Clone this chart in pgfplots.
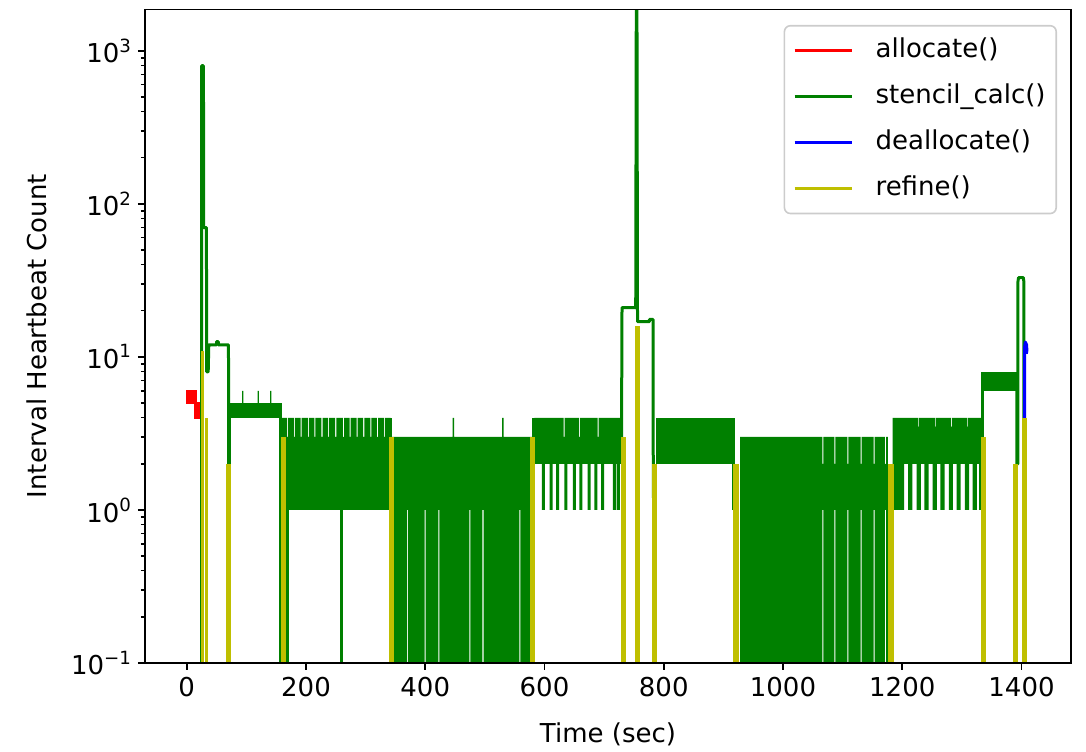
\documentclass[border=0pt]{standalone}
\usepackage{fontspec}
\setmainfont{DejaVu Sans}
\usepackage{pgfplots}
\pgfplotsset{compat=1.18}
\definecolor{mred}{rgb}{1,0,0}
\definecolor{mgreen}{rgb}{0,0.5,0}
\definecolor{mblue}{rgb}{0,0,1}
\definecolor{myellow}{rgb}{0.75,0.75,0}
\definecolor{legframe}{rgb}{0.8,0.8,0.8}
\newcommand{\fs}{\fontsize{13}{15.6}\selectfont}
\newcommand{\tensup}[1]{10\raisebox{0.42em}{\fontsize{9.1}{10}\selectfont #1}}
\begin{document}
\begin{tikzpicture}
\useasboundingbox (-72.5pt,-44pt) rectangle (470.5pt,331.5pt);
\begin{axis}[
  at={(0pt,0pt)}, anchor=south west,
  scale only axis, width=463pt, height=326.85pt,
  xmin=-70, xmax=1483, ymode=log, ymin=0.1, ymax=1870,
  enlargelimits=false, axis on top,
  unbounded coords=jump,
  axis line style={black, line width=0.8pt},
  tick align=outside, tick pos=left,
  major tick length=3.5pt, minor tick length=2pt,
  every tick/.style={black, line width=0.8pt},
  minor tick style={black, line width=0.6pt},
  xtick={0,200,400,600,800,1000,1200,1400},
  ytick={0.1,1,10,100,1000},
  yticklabels={\tensup{−1},\tensup{0},\tensup{1},\tensup{2},\tensup{3}},
  minor ytick={0.2,0.3,0.4,0.5,0.6,0.7,0.8,0.9,2,3,4,5,6,7,8,9,20,30,40,50,60,70,80,90,200,300,400,500,600,700,800,900},
  /pgf/number format/assume math mode=true,
  /pgf/number format/1000 sep={},
  every tick label/.append style={font=\fs},
  xlabel={Time (sec)}, ylabel={Interval Heartbeat Count},
  xlabel style={at={(axis description cs:0.5,-0.1086)}, anchor=center, font=\fs},
  ylabel style={at={(axis description cs:-0.1172,0.5)}, anchor=center, font=\fs},
  legend cell align=left,
  legend image code/.code={\draw[#1] (0pt,0pt) -- (28.8pt,0pt);},
  legend style={at={(1,1)}, anchor=north east, xshift=-7pt, yshift=-7.8pt,
    draw=legframe, line width=0.8pt, rounded corners=3pt, fill=white,
    font=\fs, inner xsep=4.3pt, inner ysep=5.2pt, row sep=8.5pt, column sep=10pt,
    nodes={inner sep=1pt, text height=9.5pt, text depth=3pt}},
]
\addlegendimage{mred, line width=1.5pt}
\addlegendentry{allocate()}
\addlegendimage{mgreen, line width=1.5pt}
\addlegendentry{stencil\_calc()}
\addlegendimage{mblue, line width=1.5pt}
\addlegendentry{deallocate()}
\addlegendimage{myellow, line width=1.5pt}
\addlegendentry{refine()}

% allocate()
\addplot[forget plot, fill=mred, draw=mred, line width=1pt] coordinates {
(0,5)(0,6)(15,6)(15,5)(24,5)(24,4)(14,4)(14,5)} -- cycle;

% stencil_calc(): dense oscillation bands
\addplot[forget plot, fill=mgreen, draw=none] coordinates {
(71,4)(71,5)(93,5)(93,6)(95,6)(95,5)(119,5)(119,6)(121,6)(121,5)(140,5)(140,6)(142,6)(142,5)(158,5)(158,4)} -- cycle;
\addplot[forget plot, fill=mgreen, draw=none] coordinates {
(160,1)(160,4)(168,4)(168,3)(169.8,3)(169.8,4)(180,4)(180,3)(181.8,3)(181.8,4)(191,4)(191,3)(192.8,3)(192.8,4)
(203,4)(203,3)(204.8,3)(204.8,4)(214,4)(214,3)(215.8,3)(215.8,4)(226,4)(226,3)(227.8,3)(227.8,4)
(237,4)(237,3)(238.8,3)(238.8,4)(249,4)(249,3)(250.8,3)(250.8,4)(262,4)(262,3)(263.8,3)(263.8,4)
(273,4)(273,3)(274.8,3)(274.8,4)(285,4)(285,3)(286.8,3)(286.8,4)(296,4)(296,3)(297.8,3)(297.8,4)
(308,4)(308,3)(309.8,3)(309.8,4)(319,4)(319,3)(320.8,3)(320.8,4)(331,4)(331,3)(332.8,3)(332.8,4)(342,4)(342,1)} -- cycle;
\addplot[forget plot, fill=mgreen, draw=none] coordinates {
(344,0.01)(344,3)(446,3)(446,4)(448.5,4)(448.5,3)(529,3)(529,4)(531.5,4)(531.5,3)(581,3)(581,0.01)
(559.6,0.01)(559.6,1)(557.8,1)(557.8,0.01)(497.8,0.01)(497.8,1)(496,1)(496,0.01)
(475.8,0.01)(475.8,1)(474,1)(474,0.01)(423.8,0.01)(423.8,1)(422,1)(422,0.01)
(400.8,0.01)(400.8,1)(399,1)(399,0.01)(370.8,0.01)(370.8,1)(369,1)(369,0.01)} -- cycle;
\addplot[forget plot, fill=mgreen, draw=none] coordinates {
(583,2)(583,4)(632,4)(632,3)(633.8,3)(633.8,4)(658,4)(658,3)(659.8,3)(659.8,4)(689,4)(689,3)(690.8,3)(690.8,4)(729,4)(729,2)
(726.5,2)(726.5,1)(721,1)(721,2)(719.5,2)(719.5,1)(714.5,1)(714.5,2)(700,2)(700,1)(695,1)(695,2)
(688.7,2)(688.7,1)(683.7,1)(683.7,2)(677.5,2)(677.5,1)(672.5,1)(672.5,2)(663.5,2)(663.5,1)(658.5,1)(658.5,2)
(652.5,2)(652.5,1)(647.5,1)(647.5,2)(638.5,2)(638.5,1)(633.5,1)(633.5,2)(624.5,2)(624.5,1)(619.5,1)(619.5,2)
(613.5,2)(613.5,1)(608.5,1)(608.5,2)(600.5,2)(600.5,1)(595.5,1)(595.5,2)} -- cycle;
\addplot[forget plot, fill=mgreen, draw=none] coordinates {
(787,2)(787,4)(917,4)(917,2)} -- cycle;
\addplot[forget plot, fill=mgreen, draw=none] coordinates {
(928,0.01)(928,3)(1066,3)(1066,2)(1067.8,2)(1067.8,3)(1086,3)(1086,2)(1087.8,2)(1087.8,3)
(1108,3)(1108,2)(1109.8,2)(1109.8,3)(1130,3)(1130,2)(1131.8,2)(1131.8,3)(1152,3)(1152,2)(1153.8,2)(1153.8,3)
(1171,3)(1171,2)(1172.8,2)(1172.8,3)(1176,3)(1176,0.01)
(1172.8,0.01)(1172.8,1)(1171,1)(1171,0.01)(1153.8,0.01)(1153.8,1)(1152,1)(1152,0.01)
(1131.8,0.01)(1131.8,1)(1130,1)(1130,0.01)(1109.8,0.01)(1109.8,1)(1108,1)(1108,0.01)
(1087.8,0.01)(1087.8,1)(1086,1)(1086,0.01)(1067.8,0.01)(1067.8,1)(1066,1)(1066,0.01)} -- cycle;
\addplot[forget plot, fill=mgreen, draw=none] coordinates {
(1184,2)(1184,4)(1226,4)(1226,3.5)(1227.5,3.5)(1227.5,4)(1255,4)(1255,3.5)(1256.5,3.5)(1256.5,4)
(1282,4)(1282,3.5)(1283.5,3.5)(1283.5,4)(1309,4)(1309,3.5)(1310.5,3.5)(1310.5,4)(1334,4)(1334,1)
(1329,1)(1329,2)(1325,2)(1325,1)(1318,1)(1318,2)(1312,2)(1312,1)(1305,1)(1305,2)(1298,2)(1298,1)
(1291,1)(1291,2)(1285,2)(1285,1)(1278,1)(1278,2)(1271,2)(1271,1)(1264,1)(1264,2)(1258,2)(1258,1)
(1251,1)(1251,2)(1244,2)(1244,1)(1237,1)(1237,2)(1231,2)(1231,1)(1224,1)(1224,2)(1217,2)(1217,1)
(1210,1)(1210,2)(1203,2)(1203,1)(1186,1)(1186,2)} -- cycle;
\addplot[forget plot, fill=mgreen, draw=none] coordinates {
(1337,6)(1337,8)(1392,8)(1392,6)} -- cycle;

% stencil_calc(): traces and transitions
\addplot[forget plot, mgreen, line width=1.5pt, line join=round] coordinates {
(25,0.01)(25,800)(28,800)(28.5,70)(33,70)(33.5,8)(36,8)(37,12)(50,12)(50,12.6)(53,12.6)(53,12)(70,12)(70.5,1)(71.5,1)(71.5,5)};
\addplot[forget plot, mgreen, line width=1.5pt, line join=round] coordinates {
(729,2)(730,21)(753,21)(754,2500)(755,2500)(756,17)(776,17)(776,17.6)(782,17.6)(782.5,1.2)};
\addplot[forget plot, mgreen, line width=1.5pt, line join=round] coordinates {
(1392,7)(1392,2)(1394,2)(1394,31)(1395,33)(1403,33)(1404,31)(1404,4)};
\addplot[forget plot, mgreen, line width=1.5pt] coordinates {
(158,0.01)(158,5) (158,nan)
(164,0.01)(164,1) (164,nan)
(169,0.01)(169,1) (169,nan)
(259,0.01)(259,1) (259,nan)
(342,0.01)(342,4) (342,nan)
(582,0.01)(582,4) (582,nan)
(917,1)(917,4) (917,nan)
(1335,2)(1335,8)};

% deallocate()
\addplot[forget plot, mblue, line width=1.5pt, line join=round] coordinates {
(1405,4)(1405,11.5)(1406.5,12.5)(1408.5,12)(1409,11)(1408,10.5)};

% refine()
\addplot[forget plot, myellow, line width=1.7pt] coordinates {
(26,0.01)(26,11) (26,nan)
(33,0.01)(33,4)};
\addplot[forget plot, myellow, line width=2.6pt] coordinates {
(70,0.01)(70,2) (70,nan)
(162,0.01)(162,3) (162,nan)
(344,0.01)(344,3) (344,nan)
(580,0.01)(580,3) (580,nan)
(733,0.01)(733,3) (733,nan)
(756,0.01)(756,16) (756,nan)
(784,0.01)(784,2) (784,nan)
(921,0.01)(921,2) (921,nan)
(1181,0.01)(1181,2) (1181,nan)
(1336,0.01)(1336,3) (1336,nan)
(1390,0.01)(1390,2) (1390,nan)
(1405,0.01)(1405,4)};
\end{axis}
\end{tikzpicture}
\end{document}
